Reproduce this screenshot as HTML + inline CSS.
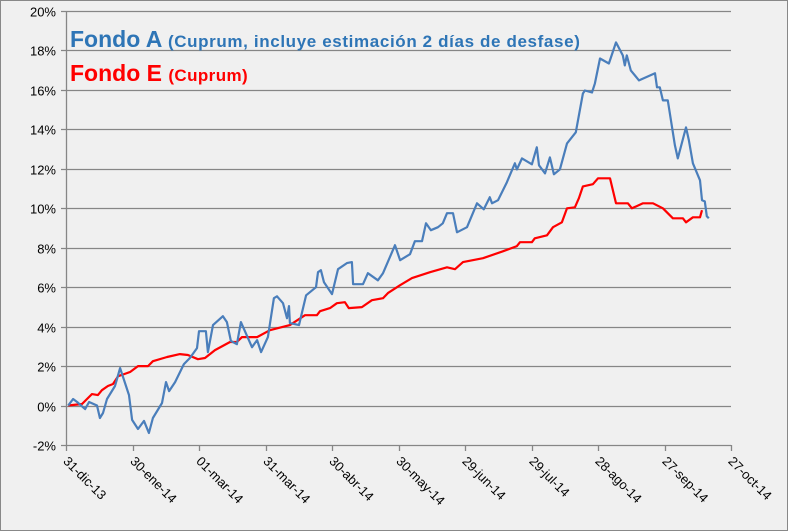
<!DOCTYPE html>
<html><head><meta charset="utf-8"><style>
body{margin:0;background:#fff}
svg{display:block;font-family:"Liberation Sans",sans-serif}
</style></head><body>
<svg id="chart" width="788" height="531" viewBox="0 0 788 531" xmlns="http://www.w3.org/2000/svg">
<rect x="0.5" y="0.5" width="787" height="530" fill="#f0f0f0" stroke="#888"/>
<g id="grid"></g>
<g id="yaxis"></g>
<g id="xaxis"></g>
<g id="series"></g>
<text x="70" y="47" fill="#2e75b6" font-weight="bold" font-size="23">Fondo A <tspan font-size="17" letter-spacing="0.63">(Cuprum, incluye estimación 2 días de desfase)</tspan></text>
<text x="70" y="81" fill="#ff0000" font-weight="bold" font-size="23">Fondo E <tspan font-size="17" letter-spacing="0.4">(Cuprum)</tspan></text>
</svg>
<script>
const yTicks=[-2,0,2,4,6,8,10,12,14,16,18,20];
const xTickDays=[0,30,60,90,120,150,180,210,240,270,300];
const xTickLabels=["31-dic-13","30-ene-14","01-mar-14","31-mar-14","30-abr-14","30-may-14","29-jun-14","29-jul-14","28-ago-14","27-sep-14","27-oct-14"];
const fondoADays=[1,3.2,5,8.6,10.4,14,15.3,16.7,18.5,22.1,24.4,28.4,29.8,32.5,35.2,37.4,39.2,43.3,45.1,46.5,49.2,53.2,55.9,59.1,60,63.1,64,66.3,70.8,72.6,74.4,77.1,78.9,83.9,86.2,88,91.1,93.8,95.2,97.9,99.7,100.6,101,105.1,108.3,112.8,113.7,115,116.4,120,122.7,126.7,129,129.5,134,136.2,140.7,143,148.4,150.7,155.2,157.4,160.6,162.4,164.6,167.8,170,171.9,174.6,176.4,180.9,185.4,188.5,191.2,192.2,194.9,198.9,202.5,203.4,205.7,210.2,212.4,213.4,216.1,218.3,220.1,222.8,226,230,233.2,234.1,237.3,238.6,240.9,244.9,248.1,251.2,252.1,253,254.8,258.5,265.7,266.6,267.9,269.3,271.5,274.7,276,279.7,281,282.8,286,286.9,288.2,289.1,290];
const fondoAValues=[0,0.33,0.18,-0.18,0.18,0,-0.63,-0.38,0.33,0.99,1.9,0.53,-0.73,-1.19,-0.78,-1.39,-0.63,0.13,1.19,0.73,1.19,2.1,2.41,2.91,3.77,3.77,2.71,4.08,4.53,4.23,3.27,3.11,4.23,2.96,3.32,2.71,3.47,5.44,5.54,5.19,4.43,5.04,4.18,4.08,5.59,6,6.76,6.86,6.25,5.65,6.91,7.22,7.27,6.15,6.15,6.71,6.35,6.71,8.13,7.37,7.67,8.33,8.33,9.24,8.89,9.04,9.24,9.75,9.75,8.78,9.04,10.25,9.95,10.56,10.25,10.41,11.32,12.28,11.97,12.53,12.23,13.09,12.18,11.77,12.58,11.72,11.97,13.29,13.85,15.82,15.97,15.87,16.33,17.59,17.34,18.41,17.75,17.24,17.75,16.99,16.48,16.84,16.13,16.13,15.47,15.47,13.19,12.53,14.1,13.44,12.28,11.42,10.41,10.35,9.6,9.49];
const fondoEDays=[1,7.2,11.7,14.4,16.2,18.9,21.2,23.5,28.9,32.5,37,39.2,45.6,51.4,55,59.5,62.7,67.2,74,77.1,79.4,86.2,92,101,107.8,113.2,114.6,119.1,122.2,125.8,127.6,133.5,138,143,145.2,150.7,156.1,164.2,171.9,175.5,179.1,188.1,197.1,203.4,204.8,210.2,211.5,217,219.7,223.7,226,229.6,231.4,233.2,237.7,240,245.4,248.1,253.5,255.3,260.3,264.8,269.3,273.8,278.3,279.7,282.8,286,286.9];
const fondoEValues=[0,0.08,0.58,0.53,0.78,0.99,1.09,1.49,1.7,2,2,2.25,2.46,2.61,2.56,2.35,2.41,2.81,3.22,3.22,3.47,3.47,3.82,4.08,4.58,4.58,4.78,4.94,5.19,5.24,4.94,4.99,5.34,5.44,5.7,6.1,6.46,6.76,7.01,6.91,7.27,7.47,7.82,8.08,8.28,8.28,8.48,8.63,9.04,9.29,10,10.05,10.51,11.11,11.22,11.52,11.52,10.25,10.25,10,10.25,10.25,10,9.49,9.49,9.29,9.54,9.54,9.9];

const NS="http://www.w3.org/2000/svg";
const X0=66,X1=731,Y0=445,Y1=11;
function xs(d){return X0+(d-0)/(300-0)*(X1-X0);}
function ys(v){return Y0-(v-(-2))/(20-(-2))*(Y0-Y1);}
function mk(tag,attrs,parent){const e=document.createElementNS(NS,tag);for(const k in attrs)e.setAttribute(k,attrs[k]);parent.appendChild(e);return e;}
const grid=document.getElementById('grid'),yax=document.getElementById('yaxis'),xax=document.getElementById('xaxis'),ser=document.getElementById('series');
yTicks.forEach(t=>{
  const y=Math.round(ys(t))+0.5;
  const l=mk('line',{x1:X0-5,x2:X1,y1:y,y2:y,stroke:'#868686','stroke-width':1.3},grid);
  
  
  const tx=mk('text',{x:56,y:y+5,'text-anchor':'end','font-size':13,fill:'#000'},yax);
  tx.textContent=t+'%';
  
  
});
const ya=mk('line',{x1:X0+0.5,x2:X0+0.5,y1:Y1,y2:Y0,stroke:'#868686','stroke-width':1.3},yax);


xTickDays.forEach((d,i)=>{
  const x=Math.round(xs(d))+0.5;
  const tk=mk('line',{x1:x,x2:x,y1:Y0,y2:Y0+6,stroke:'#868686','stroke-width':1.3},xax);
  
  
  const tx=mk('text',{x:x-4,y:Y0+17,'font-size':13,fill:'#000',transform:`rotate(45 ${x-4} ${Y0+17})`},xax);
  tx.textContent=xTickLabels[i];
  
  
});
function line(days,vals,color,name){
  const pts=days.map((d,i)=>xs(d).toFixed(1)+','+ys(vals[i]).toFixed(1)).join(' ');
  const p=mk('polyline',{points:pts,fill:'none',stroke:color,'stroke-width':2.2,'stroke-linejoin':'round'},ser);
  
  
}
line(fondoEDays,fondoEValues,'#ff0000','fondo-e-line');
line(fondoADays,fondoAValues,'#4a7ebb','fondo-a-line');
</script>
</body></html>
